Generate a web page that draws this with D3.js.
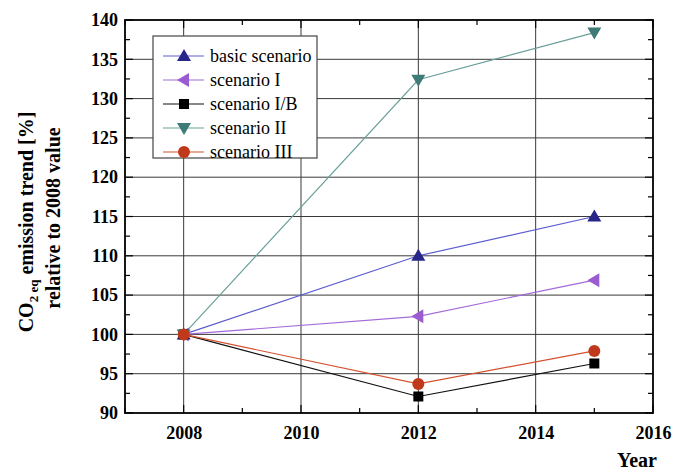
<!DOCTYPE html>
<html>
<head>
<meta charset="utf-8">
<script src="https://cdn.jsdelivr.net/npm/d3@7"></script>
<style>
  body { margin: 0; background: #fff; }
  svg text { font-family: "Liberation Serif", "Times New Roman", Times, "DejaVu Serif", serif; }
</style>
</head>
<body>
<svg id="chart" width="673" height="474"></svg>
<script>
// data
const years = [2008, 2012, 2015];
const basicScenario = [100, 110, 115];
const scenarioI = [100, 102.3, 106.9];
const scenarioIB = [100, 92.1, 96.3];
const scenarioII = [100, 132.4, 138.4];
const scenarioIII = [100, 93.7, 97.9];
const xTicks = [2008, 2010, 2012, 2014, 2016];
const yTicks = [90, 95, 100, 105, 110, 115, 120, 125, 130, 135, 140];

const series = [
  { name: 'basic scenario', values: basicScenario, line: '#5c5cd0', fill: '#27278a', shape: 'up' },
  { name: 'scenario I', values: scenarioI, line: '#a46ad8', fill: '#9a5cd0', shape: 'left' },
  { name: 'scenario I/B', values: scenarioIB, line: '#111', fill: '#000', shape: 'square' },
  { name: 'scenario II', values: scenarioII, line: '#6aa09a', fill: '#3f7b76', shape: 'down' },
  { name: 'scenario III', values: scenarioIII, line: '#d4512e', fill: '#c0391b', shape: 'circle' }
];

const margin = { top: 20, right: 20, bottom: 61, left: 125 };
const width = 673 - margin.left - margin.right;
const height = 474 - margin.top - margin.bottom;

const svg = d3.select('#chart');
const main = svg.append('g').attr('transform', `translate(${margin.left},${margin.top})`);

const x = d3.scaleLinear().domain([2007, 2016]).range([0, width]);
const y = d3.scaleLinear().domain([90, 140]).range([height, 0]);

// grid
main.append('g').selectAll('line').data(xTicks.filter(d => d < 2016)).enter().append('line')
  .attr('x1', d => x(d)).attr('x2', d => x(d)).attr('y1', 0).attr('y2', height)
  .attr('stroke', '#3a3a3a').attr('stroke-width', 1);
main.append('g').selectAll('line').data(yTicks.filter(d => d > 90 && d < 140)).enter().append('line')
  .attr('x1', 0).attr('x2', width).attr('y1', d => y(d)).attr('y2', d => y(d))
  .attr('stroke', '#3a3a3a').attr('stroke-width', 1);

// axes, ticks pointing in
const minorX = d3.range(2007, 2017, 1);
const minorY = d3.range(90, 140.1, 2.5);
function tickSize(isMajor) { return isMajor ? 8 : 5; }

const xAxis = d3.axisBottom(x).tickValues(xTicks).tickFormat(d3.format('d')).tickSize(0).tickPadding(13);
const gx = main.append('g').attr('transform', `translate(0,${height})`).call(xAxis);
gx.attr('font-family', null).attr('font-size', 18);
gx.select('.domain').remove();
gx.selectAll('text').attr('font-weight', 'bold').attr('fill', '#000');

const yAxis = d3.axisLeft(y).tickValues(yTicks).tickSize(0).tickPadding(7);
const gy = main.append('g').call(yAxis);
gy.attr('font-family', null).attr('font-size', 18);
gy.select('.domain').remove();
gy.selectAll('text').attr('font-weight', 'bold').attr('fill', '#000');

const ticks = main.append('g').attr('stroke', '#000').attr('stroke-width', 1.2);
minorX.forEach(v => {
  const s = tickSize(v % 2 === 0);
  ticks.append('line').attr('x1', x(v)).attr('x2', x(v)).attr('y1', height).attr('y2', height - s);
  ticks.append('line').attr('x1', x(v)).attr('x2', x(v)).attr('y1', 0).attr('y2', s);
});
minorY.forEach(v => {
  const s = tickSize(v % 5 === 0);
  ticks.append('line').attr('x1', 0).attr('x2', s).attr('y1', y(v)).attr('y2', y(v));
  ticks.append('line').attr('x1', width).attr('x2', width - s).attr('y1', y(v)).attr('y2', y(v));
});

main.append('rect').attr('x', 0).attr('y', 0).attr('width', width).attr('height', height)
  .attr('fill', 'none').attr('stroke', '#000').attr('stroke-width', 1.8);

// markers
function marker(g, shape, fill) {
  if (shape === 'circle') {
    g.append('circle').attr('r', 6).attr('fill', fill);
  } else if (shape === 'square') {
    g.append('rect').attr('x', -5).attr('y', -5).attr('width', 10).attr('height', 10).attr('fill', fill);
  } else {
    const rot = { up: 0, down: 180, left: -90 }[shape];
    g.append('path').attr('d', 'M0,-7L7,5L-7,5Z').attr('fill', fill)
      .attr('transform', `rotate(${rot})`);
  }
}

const line = d3.line().x(d => x(d[0])).y(d => y(d[1]));

series.forEach(s => {
  const pts = years.map((yr, i) => [yr, s.values[i]]);
  main.append('path').datum(pts).attr('d', line)
    .attr('fill', 'none').attr('stroke', s.line).attr('stroke-width', 1.2);
});
series.forEach(s => {
  years.forEach((yr, i) => {
    const g = main.append('g').attr('transform', `translate(${x(yr)},${y(s.values[i])})`);
    marker(g, s.shape, s.fill);
  });
});

// legend
const legend = svg.append('g').attr('transform', 'translate(153,36)');
legend.append('rect').attr('width', 164).attr('height', 122)
  .attr('fill', '#fff').attr('stroke', '#444').attr('stroke-width', 1.2);
series.forEach((s, i) => {
  const row = legend.append('g').attr('transform', `translate(0,${20 + i * 24})`);
  row.append('line').attr('x1', 10).attr('x2', 51).attr('stroke', s.line).attr('stroke-width', 1.2);
  marker(row.append('g').attr('transform', 'translate(31,0)'), s.shape, s.fill);
  row.append('text').attr('x', 57).attr('y', 6).attr('font-size', 18).text(s.name);
});

// axis titles
const yt = svg.append('g').attr('transform', 'translate(0,222) rotate(-90)')
  .attr('font-weight', 'bold').attr('font-size', 20).attr('text-anchor', 'middle');
const t1 = yt.append('text').attr('x', 0).attr('y', 33);
t1.append('tspan').text('CO');
t1.append('tspan').attr('font-size', 13).attr('dy', 5).text('2 eq');
t1.append('tspan').attr('dy', -5).text(' emission trend [%]');
yt.append('text').attr('x', 4).attr('y', 60).text('relative to 2008 value');

svg.append('text').attr('x', 637).attr('y', 467).attr('text-anchor', 'middle')
  .attr('font-weight', 'bold').attr('font-size', 20).text('Year');
</script>
</body>
</html>
